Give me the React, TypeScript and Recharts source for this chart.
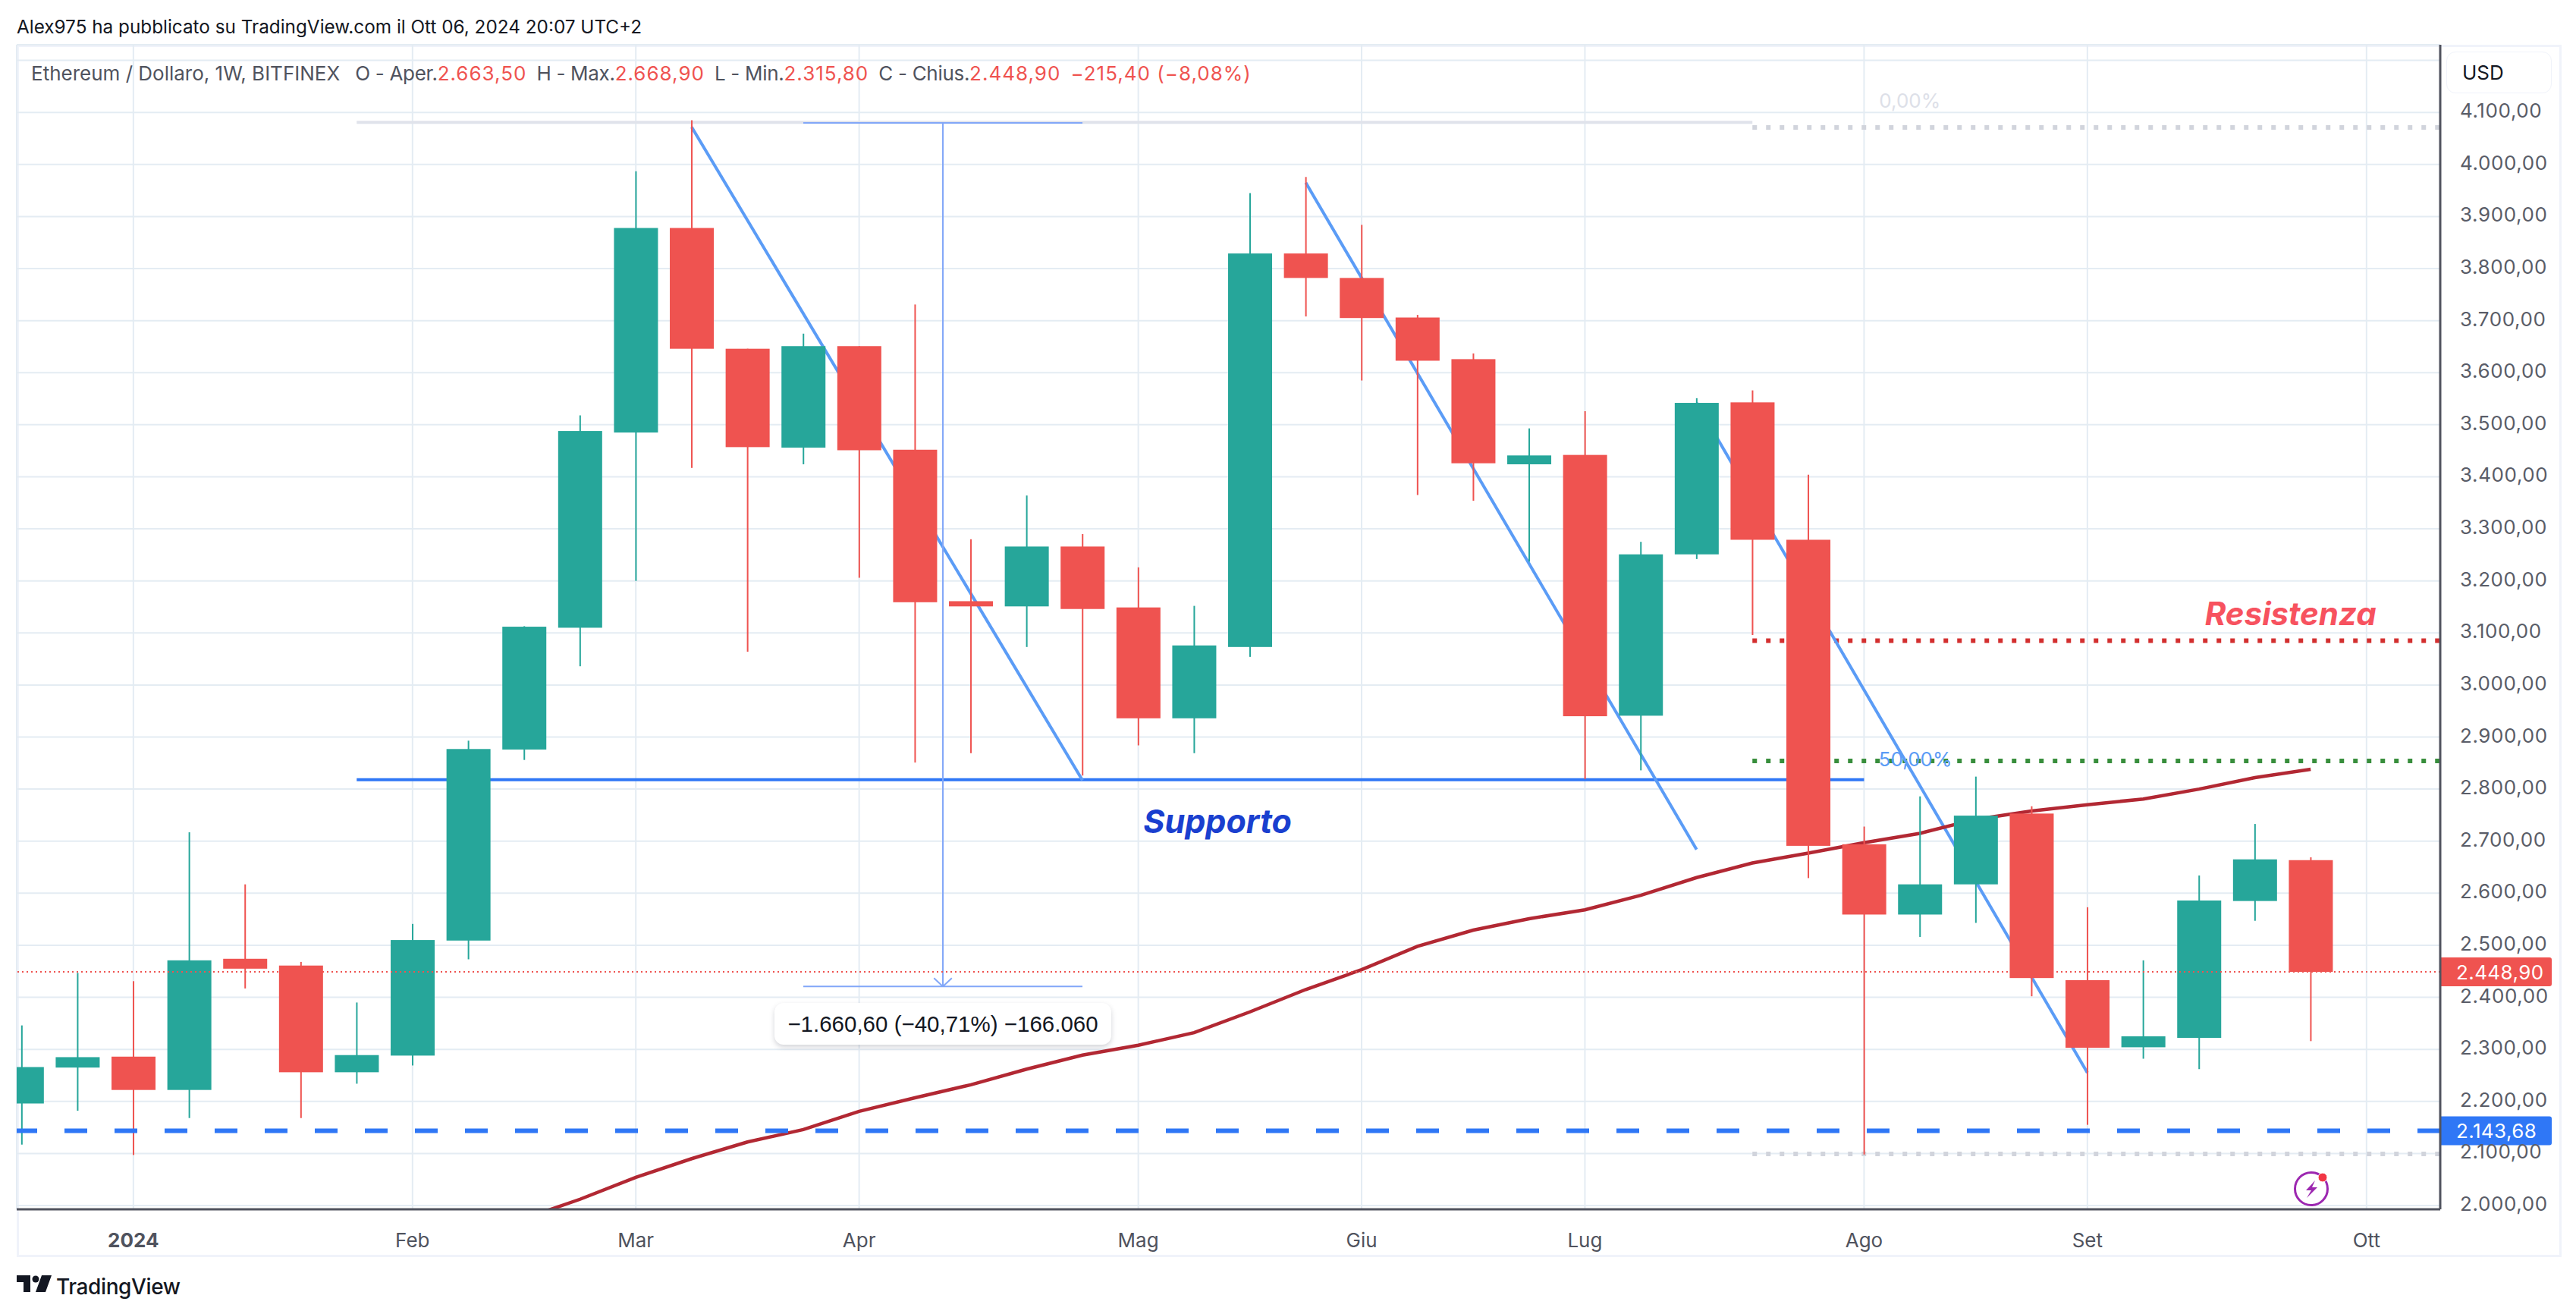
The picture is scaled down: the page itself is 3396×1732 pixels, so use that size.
import { Bar, CartesianGrid, ComposedChart, Line, ReferenceDot, ReferenceLine, XAxis, YAxis } from 'recharts';

const opens = [2196, 2265, 2286, 2222, 2474, 2461, 2256, 2288, 2509, 2876, 3110, 3485, 3878, 3646, 3456, 3651, 3452, 3161, 3151, 3266, 3149, 2936, 3073, 3829, 3782, 3706, 3626, 3424, 3442, 2941, 3251, 3543, 3279, 2694, 2559, 2617, 2753, 2433, 2304, 2322, 2585, 2663.5];
const closes = [2266, 2285, 2222, 2471, 2455, 2256, 2289, 2510, 2877, 3112, 3488, 3878, 3646, 3457, 3651, 3451, 3159, 3151, 3266, 3146, 2936, 3076, 3829, 3782, 3705, 3623, 3426, 3441, 2940, 3251, 3542, 3279, 2691, 2559, 2617, 2749, 2437, 2303, 2325, 2586, 2665, 2448.9];
const highs = [2346, 2447, 2431, 2717, 2617, 2468, 2390, 2541, 2893, 3113, 3518, 3987, 4085, 3646, 3675, 3651, 3731, 3280, 3364, 3290, 3226, 3152, 3945, 3976, 3884, 3711, 3637, 3493, 3526, 3275, 3551, 3566, 3404, 2728, 2786, 2824, 2767, 2573, 2471, 2634, 2733, 2668.9];
const lows = [2117, 2182, 2097, 2168, 2417, 2168, 2234, 2269, 2473, 2856, 3036, 3200, 3417, 3064, 3424, 3206, 2851, 2869, 3073, 2826, 2884, 2869, 3054, 3708, 3585, 3365, 3354, 3237, 2819, 2836, 3242, 3096, 2629, 2098, 2516, 2543, 2402, 2155, 2282, 2262, 2547, 2315.8];
const movingAverage = [null, null, null, null, null, null, null, null, null, 1975, 2012, 2054, 2090, 2122, 2146, 2181, 2207, 2232, 2262, 2289, 2308, 2332, 2372, 2415, 2453, 2498, 2529, 2551, 2568, 2596, 2630, 2658, 2677, 2697, 2715, 2742, 2758, 2770, 2781, 2800, 2822, 2838];

const priceTicks = [2000, 2100, 2200, 2300, 2400, 2500, 2600, 2700, 2800, 2900, 3000, 3100, 3200, 3300, 3400, 3500, 3600, 3700, 3800, 3900, 4000, 4100, 4200];
const monthTicks = [2, 7, 11, 15, 20, 24, 28, 33, 37, 42];
const monthLabels = ['2024', 'Feb', 'Mar', 'Apr', 'Mag', 'Giu', 'Lug', 'Ago', 'Set', 'Ott'];

const trendLines = [
  [{ x: 12, y: 4072 }, { x: 19, y: 2817 }],
  [{ x: 23, y: 3965 }, { x: 30, y: 2684 }],
  [{ x: 30, y: 3542 }, { x: 37, y: 2255 }],
];
const measureLines = [
  [{ x: 14, y: 4080 }, { x: 19, y: 4080 }],
  [{ x: 16.5, y: 4080 }, { x: 16.5, y: 2421 }],
  [{ x: 14, y: 2421 }, { x: 19, y: 2421 }],
  [{ x: 16.34, y: 2437 }, { x: 16.5, y: 2421 }],
  [{ x: 16.66, y: 2437 }, { x: 16.5, y: 2421 }],
];

const data = opens.map((open, i) => ({
  week: i,
  open,
  close: closes[i],
  range: [lows[i], highs[i]],
  ma: movingAverage[i],
}));

const UP = '#26A69A';
const DOWN = '#EF5350';
const GRID = '#E4ECF3';
const FONT = 'Inter, sans-serif';

const formatPrice = (v: number) => {
  // the 4.200 label sits under the USD box in the original
  if (v === 4200) return '';
  const [whole, dec] = v.toFixed(2).split('.');
  return whole.replace(/\B(?=(\d{3})+$)/g, '.') + ',' + dec;
};

const Candle = (props: any) => {
  const { x, y, width, height, payload } = props;
  const [low, high] = payload.range;
  const perUnit = height / (high - low);
  const top = y + (high - Math.max(payload.open, payload.close)) * perUnit;
  const bottom = y + (high - Math.min(payload.open, payload.close)) * perUnit;
  const color = payload.close >= payload.open ? UP : DOWN;
  return (
    <g>
      <rect x={x + width / 2 - 1} y={y} width={2} height={height} fill={color} />
      <rect x={x} y={top} width={width} height={Math.max(bottom - top, 2)} fill={color} />
    </g>
  );
};

const MonthTick = (props: any) => {
  const { x, y, payload } = props;
  const label = monthLabels[monthTicks.indexOf(payload.value)];
  return (
    <text x={x} y={y + 42} textAnchor="middle" fontFamily={FONT} fontSize={26} fill="#50535E" fontWeight={label === '2024' ? 700 : 400}>
      {label}
    </text>
  );
};

const PriceTag = (props: any) => {
  const { viewBox, text, color } = props;
  const tagX = viewBox.x + viewBox.width + 1;
  const cy = viewBox.y;
  return (
    <g>
      <path d={`M${tagX} ${cy - 19}h143a3 3 0 0 1 3 3v32a3 3 0 0 1 -3 3h-143z`} fill={color} />
      <text x={tagX + 20} y={cy + 10} fontFamily={FONT} fontSize={26} letterSpacing={0.4} fill="#fff">
        {text}
      </text>
    </g>
  );
};

const PriceTick = (props: any) => {
  const { x, y, payload } = props;
  return (
    <text x={x} y={y + 7} fontFamily={FONT} fontSize={26} letterSpacing={0.6} fill="#5A5D68">
      {formatPrice(payload.value)}
    </text>
  );
};

const boxed = (style: React.CSSProperties): React.CSSProperties => ({ position: 'absolute', whiteSpace: 'nowrap', ...style });

const gap = { marginLeft: 13, letterSpacing: -0.3 };
const red = { color: DOWN, letterSpacing: 1 };

export default function App() {
  return (
    <div style={{ position: 'absolute', left: 0, top: 0, width: 3396, height: 1732, background: '#fff', overflow: 'hidden', fontFamily: FONT }}>
      <div style={boxed({ left: 22, top: 59, width: 3349, height: 1592, border: '3px solid #F0F3FA' })} />
      <div style={{ position: 'absolute', left: 0, top: 0 }}>
        <ComposedChart width={3396} height={1732} data={data} margin={{ top: 59, right: 22, bottom: 78, left: 22 }}>
          <CartesianGrid stroke={GRID} strokeWidth={2} />
          <XAxis
            type="number"
            dataKey="week"
            domain={[-0.09, 43.32]}
            allowDataOverflow
            ticks={monthTicks}
            interval={0}
            height={60}
            tick={<MonthTick />}
            tickLine={false}
            axisLine={{ stroke: '#50535E', strokeWidth: 3 }}
          />
          <YAxis
            orientation="right"
            type="number"
            domain={[1992.7, 4230]}
            allowDataOverflow
            ticks={priceTicks}
            interval={0}
            width={157}
            tick={<PriceTick />}
            tickLine={false}
            tickMargin={20}
            axisLine={{ stroke: '#50535E', strokeWidth: 3 }}
          />

          <ReferenceLine zIndex={100} segment={[{ x: 6, y: 4081 }, { x: 31, y: 4081 }]} stroke="#E0E3EB" strokeWidth={4} />
          <ReferenceLine zIndex={100} segment={[{ x: 31, y: 4071 }, { x: 43.32, y: 4071 }]} stroke="#D1D4DC" strokeWidth={6} strokeDasharray="6 12" />
          <ReferenceLine zIndex={100} segment={[{ x: 31, y: 2099 }, { x: 43.32, y: 2099 }]} stroke="#D1D4DC" strokeWidth={6} strokeDasharray="6 12" />
          <ReferenceLine zIndex={100} segment={[{ x: 31, y: 3085 }, { x: 43.32, y: 3085 }]} stroke="#D32F2F" strokeWidth={6} strokeDasharray="6 12" />
          <ReferenceLine zIndex={100} segment={[{ x: 31, y: 2854 }, { x: 43.32, y: 2854 }]} stroke="#388E3C" strokeWidth={6} strokeDasharray="6 12" />
          <ReferenceLine zIndex={100} segment={[{ x: 6, y: 2818 }, { x: 33, y: 2818 }]} stroke="#2F77F6" strokeWidth={4} />
          {trendLines.map((segment, i) => (
            <ReferenceLine key={i} zIndex={100} segment={segment} stroke="#5B9CF6" strokeWidth={4} />
          ))}
          {measureLines.map((segment, i) => (
            <ReferenceLine key={i} zIndex={100} segment={segment} stroke="#82A7F8" strokeWidth={2} />
          ))}

          <Line zIndex={110} dataKey="ma" stroke="#B22833" strokeWidth={4.5} dot={false} connectNulls isAnimationActive={false} />
          <Bar zIndex={300} dataKey="range" barSize={58} shape={<Candle />} isAnimationActive={false} />

          <ReferenceLine zIndex={400} y={2448.9} stroke={DOWN} strokeWidth={2} strokeDasharray="2 4" label={<PriceTag text="2.448,90" color={DOWN} />} />
          <ReferenceLine zIndex={400} y={2143.68} stroke="#2F77F6" strokeWidth={6} strokeDasharray="30 36" label={<PriceTag text="2.143,68" color="#2F77F6" />} />

          <ReferenceDot x={33.82} y={4122} r={0} stroke="none" label={{ value: '0,00%', position: 'center', fontSize: 26, fontFamily: FONT, fill: '#DDE0E8' }} />
          <ReferenceDot x={33.92} y={2858} r={0} stroke="none" label={{ value: '50,00%', position: 'center', fontSize: 26, fontFamily: FONT, fill: '#5B9CF6' }} />
          <ReferenceDot x={21.42} y={2738} r={0} stroke="none" label={{ value: 'Supporto', position: 'center', fontSize: 43, fontFamily: FONT, fontWeight: 700, fontStyle: 'italic', fill: '#1A3FCF' }} />
          <ReferenceDot x={40.64} y={3137} r={0} stroke="none" label={{ value: 'Resistenza', position: 'center', fontSize: 42, fontFamily: FONT, fontWeight: 700, fontStyle: 'italic', fill: '#F7525F' }} />
        </ComposedChart>
      </div>

      <div style={boxed({ left: 22, top: 19, fontSize: 24.3, lineHeight: '32px', color: '#131722' })}>
        Alex975 ha pubblicato su TradingView.com il Ott 06, 2024 20:07 UTC+2
      </div>
      <div style={boxed({ left: 41, top: 81, fontSize: 26, lineHeight: '32px', color: '#50535E' })}>
        Ethereum / Dollaro, 1W, BITFINEX
        <span style={gap}>&nbsp;O - Aper.</span><span style={red}>2.663,50</span>
        <span style={gap}>H - Max.</span><span style={red}>2.668,90</span>
        <span style={gap}>L - Min.</span><span style={red}>2.315,80</span>
        <span style={gap}>C - Chius.</span><span style={red}>2.448,90</span>
        <span style={{ ...gap, ...red }}>−215,40 (−8,08%)</span>
      </div>
      <div style={boxed({ left: 3225, top: 68, width: 139, height: 55, background: '#fff', border: '1px solid #F0F3FA', borderRadius: 12, boxSizing: 'border-box' })}>
        <span style={{ position: 'absolute', left: 20, top: 11, fontSize: 26, lineHeight: '32px', color: '#131722' }}>USD</span>
      </div>
      <div style={boxed({ left: 1021, top: 1322, width: 444, height: 55, background: '#fff', borderRadius: 12, boxShadow: '0 3px 6px rgba(80,85,100,0.25)', textAlign: 'center', fontSize: 29.5, lineHeight: '55px', color: '#131722', fontFamily: 'Liberation Sans, sans-serif' })}>
        −1.660,60 (−40,71%) −166.060
      </div>
      <svg style={boxed({ left: 3020, top: 1540 })} width={56} height={52} viewBox="0 0 56 52">
        <circle cx={27} cy={27} r={21.5} fill="none" stroke="#9C27B0" strokeWidth={3} />
        <path d="M32 16 L20 29 L27 29 L21 39 L35 25 L28 25 Z" fill="#9C27B0" />
        <circle cx={42} cy={12} r={6} fill="#F23645" stroke="#fff" strokeWidth={1} />
      </svg>
      <svg style={boxed({ left: 22, top: 1681 })} width={46} height={24} viewBox="0 0 46 24">
        <path d="M0 0h18v22h-9V9H0z M33 0h13l-8 22H25z" fill="#131722" />
        <circle cx={25} cy={5} r={4.5} fill="#131722" />
      </svg>
      <div style={boxed({ left: 74, top: 1677, fontSize: 28, lineHeight: '38px', color: '#131722', fontWeight: 500, letterSpacing: -0.4 })}>TradingView</div>
    </div>
  );
}
